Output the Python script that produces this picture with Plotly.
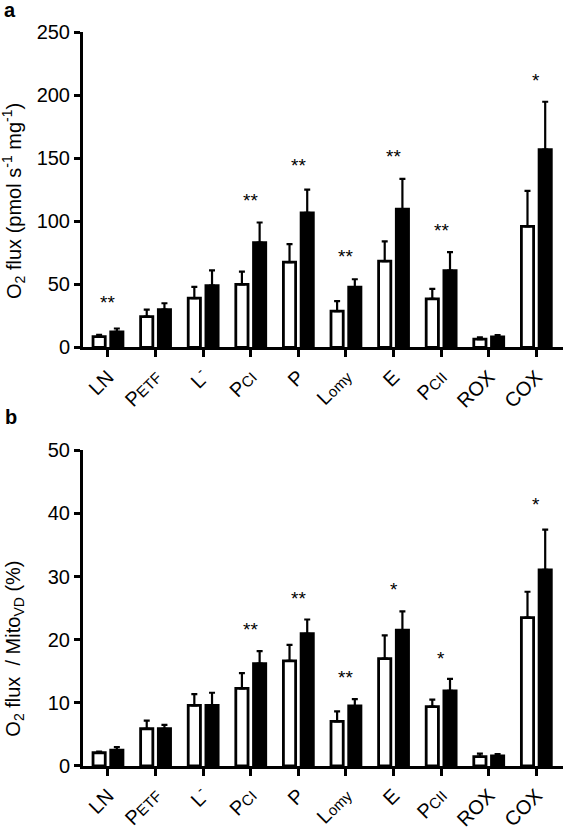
import plotly.graph_objects as go

categories = ["LN", "PETF", "L-", "PCI", "P", "Lomy", "E", "PCII", "ROX", "COX"]
tick_labels = [
    "LN",
    "P<span style='font-size:15px'>ETF</span>",
    "L<sup>-</sup>",
    "P<span style='font-size:15px'>CI</span>",
    "P",
    "L<span style='font-size:15px'>omy</span>",
    "E",
    "P<span style='font-size:15px'>CII</span>",
    "ROX",
    "COX",
]

# Panel a: O2 flux (pmol s-1 mg-1)
a_white = [8.5, 24.4, 39, 50, 67.6, 28.8, 68.4, 38.5, 6.5, 96]
a_white_err = [1.5, 5.6, 9, 10, 14.2, 7.9, 15.6, 7.9, 1.4, 28]
a_black = [12.3, 30, 49, 83, 106.7, 47.7, 109.5, 60.8, 8.4, 156.7]
a_black_err = [2.7, 5, 12, 16, 18.3, 6.3, 24.1, 14.7, 1.3, 38]
a_sig_text = ["**", "", "", "**", "**", "**", "**", "**", "", "*"]
a_sig_y = [35.4, None, None, 116.4, 144, 72.3, 151, 92.8, None, 211.5]

# Panel b: O2 flux / MitoVD (%)
b_white = [2.1, 5.9, 9.6, 12.3, 16.65, 7.07, 17.0, 9.4, 1.5, 23.5]
b_white_err = [0.2, 1.3, 1.8, 2.4, 2.55, 1.57, 3.7, 1.1, 0.45, 4.1]
b_black = [2.5, 5.9, 9.6, 16.2, 20.95, 9.5, 21.5, 11.9, 1.6, 31.05]
b_black_err = [0.5, 0.6, 2.0, 2.0, 2.25, 1.1, 3.0, 1.9, 0.3, 6.4]
b_sig_text = ["", "", "", "**", "**", "**", "*", "*", "", "*"]
b_sig_y = [None, None, None, 21.6, 26.45, 14.0, 27.9, 17.1, None, 41.4]

FONT = "Liberation Sans, Arial, Helvetica, sans-serif"
x_idx = list(range(len(categories)))


def bar(vals, errs, fill, xa, ya):
    return go.Bar(
        x=x_idx, y=vals, xaxis=xa, yaxis=ya,
        marker=dict(color=fill, line=dict(color="black", width=2.8)),
        error_y=dict(type="data", array=errs, arrayminus=[0] * len(errs),
                     symmetric=False, color="black", thickness=2.2, width=3),
        showlegend=False,
    )


fig = go.Figure()
fig.add_trace(bar(a_white, a_white_err, "white", "x", "y"))
fig.add_trace(bar(a_black, a_black_err, "black", "x", "y"))
fig.add_trace(bar(b_white, b_white_err, "white", "x2", "y2"))
fig.add_trace(bar(b_black, b_black_err, "black", "x2", "y2"))

annotations = []
for i, (t, yv) in enumerate(zip(a_sig_text, a_sig_y)):
    if t:
        annotations.append(dict(x=i, y=yv, xref="x", yref="y", text=t, showarrow=False,
                                font=dict(size=19, color="black", family=FONT)))
for i, (t, yv) in enumerate(zip(b_sig_text, b_sig_y)):
    if t:
        annotations.append(dict(x=i, y=yv, xref="x2", yref="y2", text=t, showarrow=False,
                                font=dict(size=19, color="black", family=FONT)))

annotations += [
    dict(x=-0.152, y=1.0297, xref="paper", yref="paper", text="<b>a</b>", showarrow=False,
         xanchor="center", yanchor="middle", font=dict(size=20, color="black", family=FONT)),
    dict(x=-0.150, y=0.4757, xref="paper", yref="paper", text="<b>b</b>", showarrow=False,
         xanchor="center", yanchor="middle", font=dict(size=20, color="black", family=FONT)),
    dict(x=-0.1435, y=0.77, xref="paper", yref="paper",
         text="O<sub>2</sub> flux (pmol s<sup>-1</sup> mg<sup>-1</sup>)", textangle=-90,
         showarrow=False, xanchor="center", yanchor="middle",
         font=dict(size=20, color="black", family=FONT)),
    dict(x=-0.1435, y=0.16, xref="paper", yref="paper",
         text="O<sub>2</sub> flux \u00a0/ Mito<sub>VD</sub> (%)", textangle=-90,
         showarrow=False, xanchor="center", yanchor="middle",
         font=dict(size=20, color="black", family=FONT)),
]

xcommon = dict(
    range=[-0.525, 9.56], tickmode="array", tickvals=x_idx, ticktext=tick_labels,
    tickangle=-45, ticks="outside", ticklen=7, tickwidth=3, tickcolor="black",
    showline=True, linewidth=3, linecolor="black", showgrid=False, zeroline=False,
    tickfont=dict(size=20, color="black", family=FONT),
)
ycommon = dict(
    ticks="outside", ticklen=6, tickwidth=3, tickcolor="black",
    showline=True, linewidth=3, linecolor="black", showgrid=False, zeroline=False,
    tickfont=dict(size=20, color="black", family=FONT),
)

fig.update_layout(
    width=564, height=832,
    margin=dict(l=83, r=1, t=32, b=60),
    paper_bgcolor="white", plot_bgcolor="white",
    barmode="group", bargap=0.256, bargroupgap=0.31,
    xaxis=dict(domain=[0, 1], anchor="y", **xcommon),
    yaxis=dict(domain=[0.5703, 1], anchor="x", range=[0, 250], dtick=50, **ycommon),
    xaxis2=dict(domain=[0, 1], anchor="y2", **xcommon),
    yaxis2=dict(domain=[0, 0.4301], anchor="x2", range=[0, 50], dtick=10, **ycommon),
    annotations=annotations,
    font=dict(family=FONT, color="black"),
)

fig.write_html(
    "out.html", config={"displayModeBar": False},
    post_script=("document.body.style.margin='0';"
                 "document.body.style.overflow='hidden';"
                 "document.documentElement.style.overflow='hidden';"),
)
